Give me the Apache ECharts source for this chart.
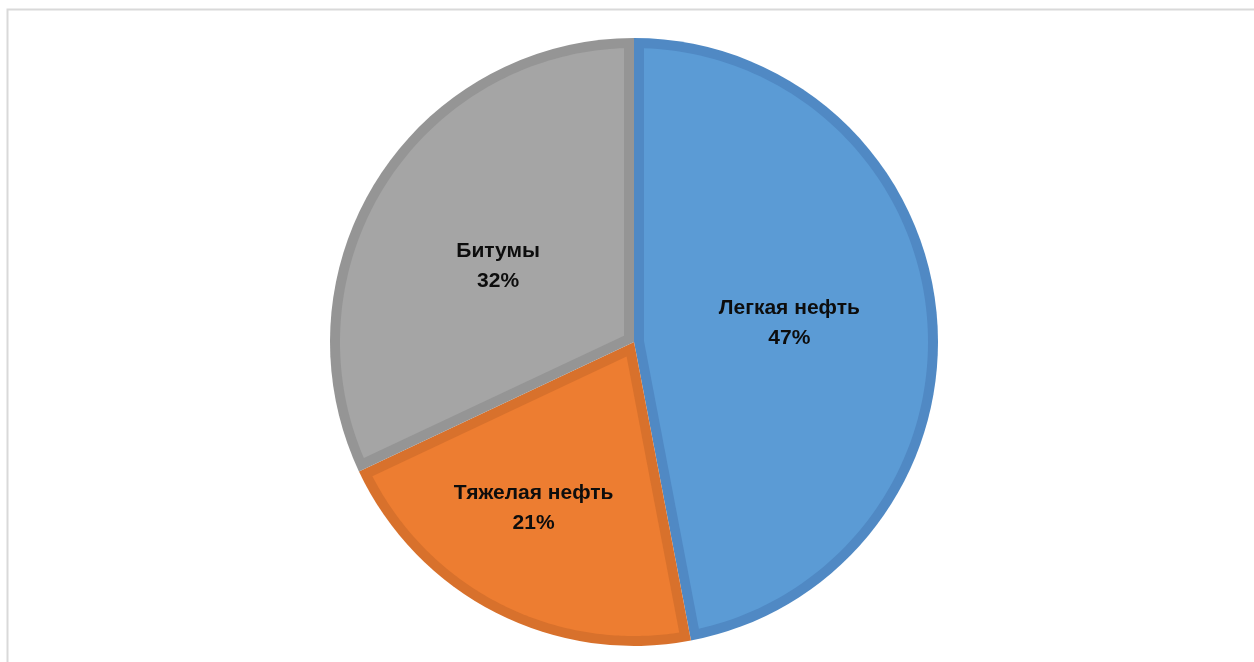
<!DOCTYPE html>
<html>
<head>
<meta charset="utf-8">
<script src="https://cdn.jsdelivr.net/npm/echarts@6/dist/echarts.min.js"></script>
<style>
html,body{margin:0;padding:0;background:#fff;}
#chart{width:1254px;height:662px;}
</style>
</head>
<body>
<div id="chart"></div>
<script>
const categories = ['Легкая нефть', 'Тяжелая нефть', 'Битумы'];
const values = [47, 21, 32];
const fillColors = ['#5B9BD5', '#ED7D31', '#A5A5A5'];
const edgeColors = ['#5089C4', '#D8712C', '#959595'];

const total = values.reduce((a, b) => a + b, 0);
const spans = [];
let acc = 0;
values.forEach(v => {
  const s = acc / total * 100;
  acc += v;
  spans.push([s, acc / total * 100]);
});

const chart = echarts.init(document.getElementById('chart'));
const center = [634, 342];
const OUTER = 304;
const BAND = 10;
const INNER = OUTER - BAND;

function renderInset(params, api) {
  const s = api.value(0), e = api.value(1);
  const theta = (e - s) / 100 * 2 * Math.PI;
  const apexR = BAND / Math.sin(theta / 2);
  const dPct = Math.asin(BAND / INNER) / (2 * Math.PI) * 100;
  const pts = [api.coord([apexR, (s + e) / 2])];
  const n = 120;
  for (let k = 0; k <= n; k++) {
    const a = s + dPct + (e - s - 2 * dPct) * k / n;
    pts.push(api.coord([INNER, a]));
  }
  return {
    type: 'polygon',
    shape: { points: pts },
    style: { fill: fillColors[params.dataIndex] }
  };
}

chart.setOption({
  animation: false,
  backgroundColor: '#ffffff',
  graphic: [{
    type: 'rect',
    shape: { x: 7.5, y: 9.5, width: 1400, height: 800 },
    style: { fill: 'none', stroke: '#d9d9d9', lineWidth: 2 },
    silent: true
  }],
  polar: { center: center, radius: OUTER },
  angleAxis: { type: 'value', min: 0, max: 100, startAngle: 90, clockwise: true, show: false },
  radiusAxis: { type: 'value', min: 0, max: OUTER, show: false },
  series: [
    {
      type: 'pie',
      z: 1,
      center: center,
      radius: OUTER,
      startAngle: 90,
      clockwise: true,
      silent: true,
      label: { show: false },
      labelLine: { show: false },
      data: categories.map((c, i) => ({ name: c, value: values[i], itemStyle: { color: edgeColors[i] } }))
    },
    {
      type: 'custom',
      z: 2,
      coordinateSystem: 'polar',
      silent: true,
      renderItem: renderInset,
      data: spans
    },
    {
      type: 'pie',
      z: 3,
      center: center,
      radius: OUTER,
      startAngle: 90,
      clockwise: true,
      silent: true,
      labelLine: { show: false },
      itemStyle: { color: 'rgba(0,0,0,0)' },
      label: {
        show: true,
        position: 'inside',
        formatter: '{b}\n{d}%',
        fontFamily: 'Liberation Sans',
        fontWeight: 'bold',
        fontSize: 21,
        lineHeight: 30,
        color: '#0d0d0d'
      },
      data: categories.map((c, i) => {
        const d = { name: c, value: values[i] };
        if (i === 0) d.label = { offset: [1, -4] };
        if (i === 1) d.label = { offset: [-30, 28] };
        if (i === 2) d.label = { offset: [-5, 7] };
        return d;
      })
    }
  ]
});
</script>
</body>
</html>
